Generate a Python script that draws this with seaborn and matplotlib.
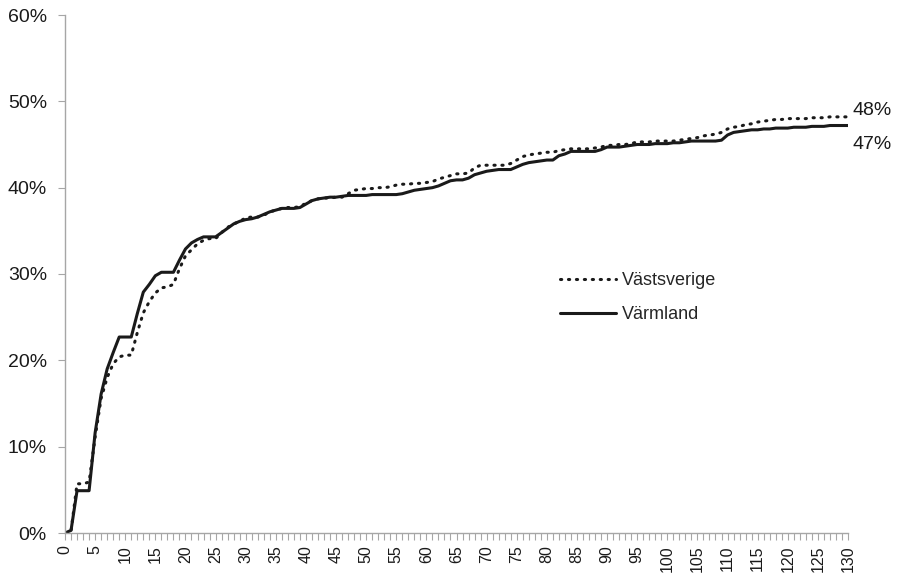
import numpy as np
import pandas as pd
import matplotlib
matplotlib.use("Agg")
import matplotlib.pyplot as plt
import seaborn as sns
from matplotlib.ticker import MultipleLocator, FuncFormatter

# x = 0..130, values in percent
days = list(range(131))

vastsverige = [
    0.0, 0.2, 5.7, 5.7, 5.9, 11.1, 15.6, 18.0, 19.6, 20.4,
    20.6, 20.6, 23.2, 25.5, 26.8, 27.8, 28.4, 28.5, 28.8, 30.6,
    32.1, 32.8, 33.5, 33.9, 34.1, 34.1, 34.8, 35.4, 35.8, 36.1,
    36.5, 36.6, 36.6, 36.8, 37.2, 37.4, 37.6, 37.7, 37.7, 37.8,
    38.2, 38.5, 38.7, 38.8, 38.8, 38.9, 38.9, 39.3, 39.7, 39.8,
    39.9, 39.9, 40.0, 40.0, 40.1, 40.3, 40.4, 40.4, 40.5, 40.5,
    40.6, 40.7, 41.0, 41.2, 41.4, 41.6, 41.6, 41.7, 42.3, 42.6,
    42.6, 42.6, 42.6, 42.6, 42.8, 43.2, 43.6, 43.8, 43.9, 44.0,
    44.1, 44.1, 44.3, 44.4, 44.5, 44.5, 44.5, 44.5, 44.6, 44.7,
    44.9, 44.9, 45.0, 45.0, 45.1, 45.3, 45.3, 45.3, 45.4, 45.4,
    45.4, 45.4, 45.5, 45.6, 45.7, 45.8, 46.0, 46.1, 46.2, 46.4,
    46.8, 47.0, 47.1, 47.3, 47.4, 47.6, 47.7, 47.8, 47.9, 47.9,
    48.0, 48.0, 48.0, 48.0, 48.1, 48.1, 48.1, 48.2, 48.2, 48.2,
    48.2,
]

varmland = [
    0.0, 0.3, 4.9, 4.9, 4.9, 11.6, 16.1, 19.0, 20.9, 22.7,
    22.7, 22.7, 25.4, 27.9, 28.8, 29.8, 30.2, 30.2, 30.2, 31.6,
    32.9, 33.6, 34.0, 34.3, 34.3, 34.3, 34.8, 35.3, 35.8, 36.1,
    36.3, 36.4, 36.6, 36.9, 37.2, 37.4, 37.6, 37.6, 37.6, 37.7,
    38.1, 38.5, 38.7, 38.8, 38.9, 38.9, 39.0, 39.1, 39.1, 39.1,
    39.1, 39.2, 39.2, 39.2, 39.2, 39.2, 39.3, 39.5, 39.7, 39.8,
    39.9, 40.0, 40.2, 40.5, 40.8, 40.9, 40.9, 41.1, 41.5, 41.7,
    41.9, 42.0, 42.1, 42.1, 42.1, 42.4, 42.7, 42.9, 43.0, 43.1,
    43.2, 43.2, 43.7, 43.9, 44.2, 44.2, 44.2, 44.2, 44.2, 44.4,
    44.7, 44.7, 44.7, 44.8, 44.9, 45.0, 45.0, 45.0, 45.1, 45.1,
    45.1, 45.2, 45.2, 45.3, 45.4, 45.4, 45.4, 45.4, 45.4, 45.5,
    46.1, 46.4, 46.5, 46.6, 46.7, 46.7, 46.8, 46.8, 46.9, 46.9,
    46.9, 47.0, 47.0, 47.0, 47.1, 47.1, 47.1, 47.2, 47.2, 47.2,
    47.2,
]

end_labels = ["48%", "47%"]

sns.set_style("white")
plt.rcParams["font.family"] = ["Liberation Sans", "DejaVu Sans"]

ink = "#1a1a1a"
axis_grey = "#a6a6a6"

fig = plt.figure(figsize=(9.01, 5.75), dpi=100)
ax = fig.add_axes([65 / 901, 42 / 575, (848 - 65) / 901, (533 - 15) / 575])

sns.lineplot(x=days, y=vastsverige, ax=ax, color=ink, linewidth=2.2,
             label="Västsverige")
sns.lineplot(x=days, y=varmland, ax=ax, color=ink, linewidth=2.2,
             label="Värmland")
dotted = ax.lines[0]
dotted.set_linestyle((0, (0.4, 2.2)))
dotted.set_dash_capstyle("round")

ax.set_xlim(0, 130)
ax.set_ylim(0, 60)
ax.xaxis.set_major_locator(MultipleLocator(5))
ax.xaxis.set_minor_locator(MultipleLocator(1))
ax.yaxis.set_major_locator(MultipleLocator(10))
ax.yaxis.set_major_formatter(FuncFormatter(lambda v, p: f"{v:.0f}%"))
ax.tick_params(axis="x", which="both", bottom=True, length=5, width=0.8,
               color=axis_grey, labelrotation=90, labelsize=11.5, pad=4,
               labelcolor=ink)
ax.tick_params(axis="y", which="major", left=True, length=5, width=0.8,
               color=axis_grey, labelsize=14, pad=8, labelcolor=ink)

for side in ["top", "right"]:
    ax.spines[side].set_visible(False)
for side in ["left", "bottom"]:
    ax.spines[side].set_color(axis_grey)
    ax.spines[side].set_linewidth(1.0)

# end-of-line labels
ax.annotate(end_labels[0], xy=(days[-1], vastsverige[-1]), xytext=(3, 4.5),
            textcoords="offset points", fontsize=14, color=ink,
            va="center", ha="left", annotation_clip=False)
ax.annotate(end_labels[1], xy=(days[-1], varmland[-1]), xytext=(3, -13.5),
            textcoords="offset points", fontsize=14, color=ink,
            va="center", ha="left", annotation_clip=False)

leg = ax.legend(loc="upper left", bbox_to_anchor=(0.611, 0.535), frameon=False,
                fontsize=13, handlelength=3.1, handletextpad=0.35,
                labelspacing=0.95)
for h in leg.get_lines():
    h.set_linewidth(2.2)
leg.get_lines()[0].set_linestyle((0, (0.4, 2.2)))
leg.get_lines()[0].set_dash_capstyle("round")

fig.savefig("out.png", dpi=100)
